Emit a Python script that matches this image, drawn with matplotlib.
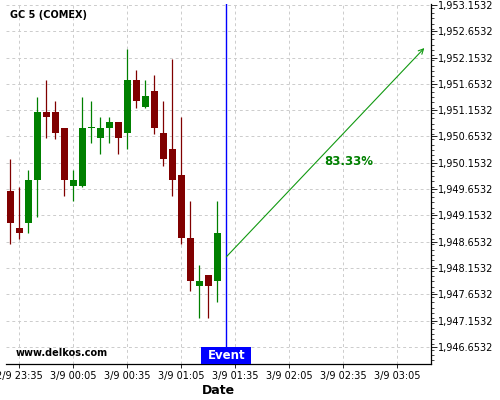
import datetime as dt
import matplotlib
matplotlib.use("Agg")
import matplotlib.pyplot as plt
import matplotlib.dates as mdates
from matplotlib.ticker import FixedLocator, MultipleLocator, FuncFormatter
from matplotlib.transforms import blended_transform_factory

# ---- data ----
start_time = dt.datetime(2025, 3, 8, 23, 30)
opens  = [1949.615, 1948.911, 1949.012, 1949.830, 1951.118, 1951.118, 1950.813, 1949.716,
          1949.716, 1950.820, 1950.629, 1950.819, 1950.927, 1950.724, 1951.726, 1951.213,
          1951.517, 1950.718, 1950.414, 1949.919, 1948.721, 1947.813, 1948.017, 1947.909]
highs  = [1950.218, 1949.697, 1950.009, 1951.409, 1951.721, 1951.321, 1950.820, 1950.009,
          1951.409, 1951.321, 1951.017, 1951.017, 1950.927, 1952.310, 1951.911, 1951.721,
          1951.822, 1951.321, 1952.120, 1951.017, 1949.419, 1948.201, 1948.017, 1949.419]
lows   = [1948.601, 1948.708, 1948.810, 1949.115, 1950.617, 1950.610, 1949.514, 1949.419,
          1949.697, 1950.522, 1950.313, 1950.522, 1950.313, 1950.408, 1951.199, 1951.199,
          1950.705, 1950.096, 1949.514, 1948.607, 1947.713, 1947.212, 1947.212, 1947.498]
closes = [1949.012, 1948.822, 1949.824, 1951.118, 1951.028, 1950.724, 1949.830, 1949.824,
          1950.813, 1950.830, 1950.813, 1950.927, 1950.629, 1951.726, 1951.327, 1951.422,
          1950.819, 1950.229, 1949.830, 1948.727, 1947.909, 1947.903, 1947.813, 1948.816]
times = [start_time + dt.timedelta(minutes=5 * i) for i in range(len(opens))]

event_time = dt.datetime(2025, 3, 9, 1, 30)
arrow_start = (dt.datetime(2025, 3, 9, 1, 30), 1948.365)
arrow_end = (dt.datetime(2025, 3, 9, 3, 20), 1952.335)
pct_label = "83.33%"
pct_pos = (dt.datetime(2025, 3, 9, 2, 38), 1950.186)

tick_times = [dt.datetime(2025, 3, 8, 23, 35) + dt.timedelta(minutes=30 * i) for i in range(8)]
tick_labels = ["2/9 23:35", "3/9 00:05", "3/9 00:35", "3/9 01:05", "3/9 01:35",
               "3/9 02:05", "3/9 02:35", "3/9 03:05"]
y_ticks = [1946.6532 + 0.5 * i for i in range(14)]
title = "GC 5 (COMEX)"

# ---- figure ----
fig = plt.figure(figsize=(5, 4), dpi=100)
ax = fig.add_axes([0.012, 0.09, 0.85, 0.9])

green = "#008000"
red = "#800000"
width = 3.9 / (24 * 60)
for t, o, h, l, c in zip(times, opens, highs, lows, closes):
    x = mdates.date2num(t)
    col = green if c >= o else red
    ax.vlines(x, l, h, color=col, linewidth=0.9, zorder=3)
    bottom = min(o, c)
    height = max(abs(c - o), 0.012)
    ax.bar(x, height, width=width, bottom=bottom, color=col, edgecolor=col,
           linewidth=0, zorder=4)

ex = mdates.date2num(event_time)
ax.axvline(ex, color="#0000ff", linewidth=1.0, zorder=5)

ax.annotate("", xy=(mdates.date2num(arrow_end[0]), arrow_end[1]),
            xytext=(mdates.date2num(arrow_start[0]), arrow_start[1]),
            arrowprops=dict(arrowstyle="->", color="#119911", lw=0.8,
                            mutation_scale=9, shrinkA=0, shrinkB=0), zorder=5)
ax.text(mdates.date2num(pct_pos[0]), pct_pos[1], pct_label, color=green,
        fontsize=8.5, fontweight="bold", ha="center", va="center", zorder=6)

# axes limits
xmin = mdates.date2num(dt.datetime(2025, 3, 8, 23, 27, 36))
xmax = mdates.date2num(dt.datetime(2025, 3, 9, 3, 23, 42))
ax.set_xlim(xmin, xmax)
ax.set_ylim(1946.328, 1953.172)

ax.xaxis.set_major_locator(FixedLocator([mdates.date2num(t) for t in tick_times]))
ax.set_xticklabels(tick_labels)
ax.yaxis.tick_right()
ax.yaxis.set_major_locator(FixedLocator(y_ticks))
ax.yaxis.set_minor_locator(MultipleLocator(0.1))
ax.yaxis.set_major_formatter(FuncFormatter(lambda v, p: f"{v:,.4f}"))
ax.tick_params(axis="y", which="major", labelsize=7, length=4, width=0.6, pad=1)
ax.tick_params(axis="y", which="minor", length=2, width=0.5)
ax.tick_params(axis="x", labelsize=7, length=3, width=0.6, pad=2)

for s in ["left", "top"]:
    ax.spines[s].set_visible(False)
for s in ["right", "bottom"]:
    ax.spines[s].set_linewidth(0.9)

ax.grid(True, which="major", color="#cccccc", linestyle=(0, (3, 3)), linewidth=0.7)
ax.set_axisbelow(True)

ax.set_xlabel("Date", fontsize=9, fontweight="bold", labelpad=2)

trans = blended_transform_factory(ax.transData, ax.transAxes)
half_w = 13.9 / (24 * 60)
ax.add_patch(plt.Rectangle((ex - half_w, 0.0), 2 * half_w, 0.047,
                           transform=trans, facecolor="#0000ff", edgecolor="none",
                           zorder=6.5, clip_on=False))
ax.text(ex, 0.024, "Event", transform=trans, ha="center", va="center",
        fontsize=8.5, fontweight="bold", color="white", zorder=7)
ax.text(0.022, 0.03, "www.delkos.com", transform=ax.transAxes, fontsize=7,
        fontweight="bold", color="black", ha="left", va="center", zorder=7)

fig.text(0.02, 0.962, title, fontsize=7, fontweight="bold", ha="left", va="center")

fig.savefig("out.png", dpi=100)
